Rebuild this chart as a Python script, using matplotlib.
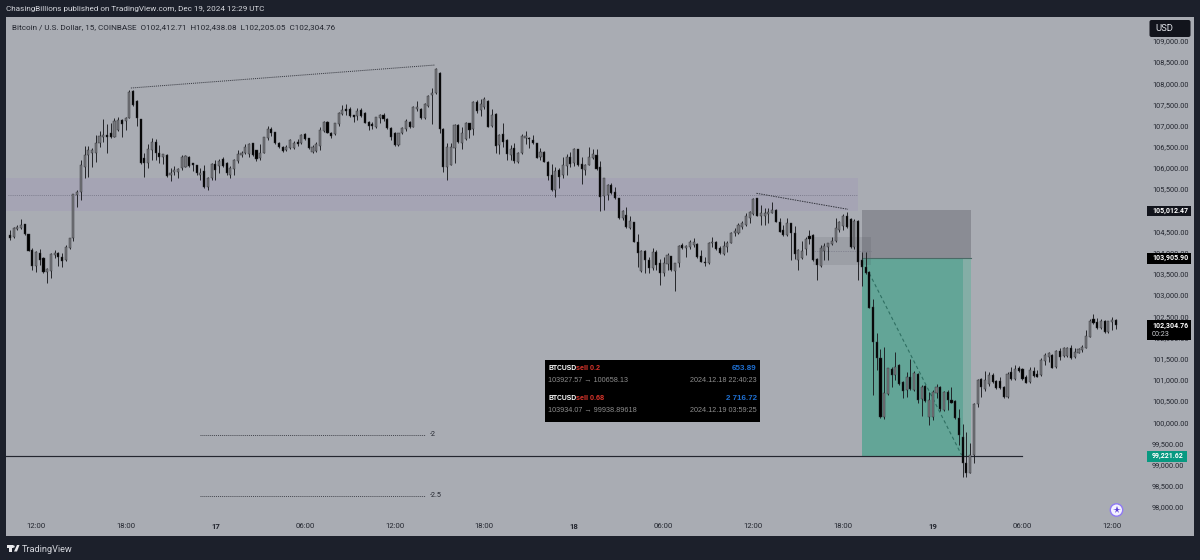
import numpy as np
import matplotlib
matplotlib.use("Agg")
import matplotlib.pyplot as plt
from matplotlib.patches import Rectangle, FancyBboxPatch, Polygon, Circle

# 15 min candles, index 0 is the 12:00 candle of dec 16
candle_index = list(range(-7, 290))

opens = [
    104416, 104377, 104558, 104574, 104668, 104440, 104062, 103684, 103984, 103865, 103551, 103574, 103944, 104000, 103889, 103826, 104101, 104338, 105353, 105438,
    106028, 106303, 106343, 106359, 106595, 106736, 106776, 106815, 106736, 106894, 107130, 107114, 107185, 107822, 107586, 107146, 106225, 106107, 106422, 106603,
    106343, 106264, 106303, 105831, 105910, 105910, 105989, 106028, 106264, 106107, 106067, 105831, 105934, 105556, 105753, 106091, 106052, 106201, 106107, 105831,
    105973, 106170, 106303, 106343, 106327, 106579, 106422, 106225, 106359, 106705, 106909, 106839, 106595, 106500, 106422, 106461, 106461, 106618, 106579, 106799,
    106697, 106366, 106406, 106516, 106878, 107090, 106831, 106799, 107035, 107271, 107382, 107382, 107248, 107224, 107366, 107287, 107090, 107035, 106957, 107169,
    107248, 107146, 106933, 106815, 106540,
    106816, 106918, 107091, 106973, 107382, 107390, 107185, 107469, 107721, 107760, 108248, 106918, 106013, 106068, 106461, 107012, 106579, 106674, 107052, 106910,
    107563, 107366, 107429, 107587, 106989, 107264, 106540, 106792, 106658, 106304, 106461, 106147, 106343, 106713, 106713, 106658, 106579, 106249, 106383, 106147,
    105832, 105478, 105950, 105832, 106052, 106249, 106107, 106438, 106091, 105950, 106068, 106225, 106304, 106013, 105336, 105360, 105596, 105438, 105281, 104809,
    104887, 104573, 104722, 104258, 103573, 104045, 103825, 103628, 104022, 103746, 103526, 103730, 103920, 103573, 103746, 104179, 104100, 104140, 104179, 104195,
    103920, 103786, 103746, 104234, 104242, 104100, 103967, 104140, 104234, 104455, 104455, 104612, 104651, 104809, 104911, 105281, 104872, 104872, 104911, 104943,
    105005, 104730, 104533, 104415, 104691, 104455, 103825,
    103866, 104078, 104393, 104416, 103842, 103685, 104047, 104141, 104204, 104283, 104534, 104629, 104865, 104786, 104141, 104755, 103826, 103669, 103551, 102709,
    101898, 101520, 100112, 100662, 101253, 101111, 101347, 100954, 100757, 101072, 100757, 101127, 100537, 100852, 100112, 100112, 100694, 100836, 100284, 100718,
    100521, 100497, 100104, 99655, 99041, 98805, 99222, 100426, 101009, 100773, 100899, 101111, 100977, 100970, 100836, 100584, 101190, 101009, 101268, 101245,
    101072, 100954, 101213, 101135, 101111, 101449, 101544, 101583, 101292, 101686, 101568, 101568, 101756, 101528, 101638, 101701, 101756, 102016, 102425, 102370,
    102213, 102378, 102126, 102370, 102412.71,
]

highs = [
    104534, 104613, 104652, 104794, 104680, 104450, 104100, 104030, 104078, 103889, 103629, 103984, 104062, 104023, 103984, 104180, 104354, 105384, 105479, 106185,
    106524, 106524, 106461, 106776, 106870, 107146, 107035, 107051, 107169, 107208, 107146, 107208, 107838, 107838, 107602, 107160, 106343, 106563, 106697, 106681,
    106540, 106335, 106320, 105989, 106044, 105989, 106303, 106303, 106280, 106123, 106067, 105989, 106067, 105792, 106107, 106185, 106201, 106248, 106130, 106044,
    106201, 106422, 106406, 106555, 106579, 106590, 106430, 106563, 106730, 106988, 106972, 106854, 106618, 106516, 106540, 106681, 106642, 106673, 106791, 106815,
    106713, 106540, 106618, 106972, 107114, 107106, 106854, 107067, 107327, 107484, 107500, 107445, 107260, 107405, 107405, 107311, 107114, 107090, 107208, 107271,
    107287, 107169, 106957, 106854, 106831,
    106957, 107154, 107107, 107461, 107587, 107406, 107540, 107721, 107878, 108350, 108264, 106934, 106595, 106595, 107028, 107036, 106973, 107083, 107067, 107587,
    107603, 107618, 107665, 107603, 107382, 107288, 106800, 107067, 106674, 106540, 106579, 106383, 106800, 106878, 106721, 106776, 106595, 106461, 106399, 106155,
    106091, 106028, 105989, 106249, 106328, 106375, 106461, 106453, 106249, 106091, 106501, 106438, 106453, 106162, 105769, 105612, 105635, 105541, 105297, 105005,
    105084, 104872, 104730, 104431, 104061, 104061, 103888, 104100, 104061, 103841, 103888, 103998, 103928, 103755, 104179, 104218, 104171, 104297, 104352, 104218,
    104061, 103888, 104250, 104360, 104281, 104155, 104281, 104281, 104494, 104573, 104691, 104746, 104927, 104990, 105281, 105297, 105123, 105045, 105045, 105202,
    105021, 104825, 104651, 104809, 104700, 104628, 104077,
    104275, 104361, 104534, 104440, 103866, 104180, 104235, 104235, 104377, 104810, 104755, 104904, 104967, 104810, 104802, 104771, 104023, 104023, 103574, 102898,
    102095, 101717, 101780, 101284, 101308, 101646, 101363, 100970, 101190, 101481, 101213, 101150, 100875, 100875, 100718, 100757, 100899, 100852, 100741, 100757,
    100820, 100521, 100300, 99954, 99757, 99498, 100442, 101009, 101032, 101213, 101190, 101166, 100993, 101072, 100852, 101190, 101292, 101339, 101324, 101268,
    101111, 101308, 101292, 101229, 101505, 101638, 101654, 101607, 101701, 101741, 101780, 101780, 101819, 101741, 101756, 101819, 102173, 102425, 102543, 102449,
    102425, 102410, 102394, 102473, 102438.08,
]

lows = [
    104298, 104338, 104534, 104550, 104425, 104030, 103590, 103551, 103708, 103511, 103275, 103393, 103865, 103684, 103669, 103810, 104078, 104283, 105085, 105241,
    105753, 105792, 106028, 106146, 106500, 106618, 106359, 106715, 106721, 106870, 106736, 106894, 107169, 107460, 106988, 106090, 105792, 105989, 106185, 106185,
    106107, 106091, 105792, 105690, 105831, 105753, 105949, 106020, 106028, 105934, 105831, 105713, 105516, 105477, 105713, 105713, 105871, 106028, 105831, 105753,
    105831, 106107, 106248, 106327, 106264, 106280, 106170, 106185, 106343, 106658, 106752, 106563, 106461, 106382, 106398, 106445, 106445, 106516, 106563, 106658,
    106437, 106343, 106382, 106422, 106854, 106815, 106697, 106776, 106988, 107248, 107248, 107208, 107090, 107130, 107208, 107051, 106894, 106909, 106933, 107067,
    107114, 106909, 106658, 106516, 106516,
    106800, 106871, 106949, 106957, 107351, 107154, 107154, 107445, 107036, 107736, 106831, 105910, 105714, 106060, 106107, 106579, 106446, 106658, 106697, 106776,
    107288, 107233, 107382, 106957, 106973, 106343, 106328, 106501, 106186, 106186, 106107, 106107, 106328, 106564, 106461, 106564, 106225, 106186, 106131, 105714,
    105462, 105320, 105517, 105753, 105832, 106013, 106044, 106044, 105619, 105832, 106060, 106202, 105950, 104982, 105005, 105241, 105383, 105265, 104785, 104769,
    104588, 104549, 104242, 103667, 103549, 103526, 103526, 103589, 103589, 103235, 103447, 103589, 103573, 103101, 103667, 104077, 103904, 104077, 104140, 103864,
    103770, 103691, 103730, 104140, 104061, 103967, 103943, 104006, 104218, 104392, 104431, 104549, 104628, 104706, 104887, 104864, 104651, 104651, 104691, 104927,
    104714, 104478, 104392, 104392, 103825, 103841, 103589,
    103860, 103944, 104204, 103803, 103354, 103653, 103826, 103826, 104180, 104259, 104495, 104534, 104574, 104102, 104078, 103354, 103212, 103496, 102685, 100639,
    101229, 100088, 100064, 100639, 100836, 100993, 100883, 100560, 100599, 100757, 100741, 100442, 100143, 100482, 99931, 100049, 100560, 100269, 100269, 100284,
    100450, 100064, 99458, 98695, 98695, 98790, 99041, 100348, 100584, 100741, 100859, 100930, 100773, 100773, 100560, 100568, 100993, 100993, 101190, 100993,
    100914, 100930, 101072, 101056, 101095, 101347, 101426, 101268, 101268, 101465, 101544, 101544, 101481, 101505, 101623, 101662, 101741, 102000, 102315, 102189,
    102197, 102111, 102111, 102174, 102205.05,
]

closes = [
    104338, 104574, 104613, 104652, 104432, 104039, 103684, 104023, 103826, 103535, 103606, 103968, 104000, 103889, 103810, 104125, 104338, 105376, 105439, 106067,
    106303, 106422, 106422, 106595, 106752, 106776, 106736, 106721, 107114, 107130, 107035, 107169, 107799, 107484, 107169, 106107, 106107, 106437, 106618, 106343,
    106264, 106327, 105808, 105886, 105949, 105965, 106248, 106280, 106052, 106067, 105871, 105886, 105556, 105753, 106091, 105949, 106162, 106044, 105871, 106004,
    106185, 106327, 106359, 106500, 106563, 106303, 106201, 106359, 106721, 106909, 106815, 106595, 106484, 106406, 106500, 106658, 106595, 106563, 106776, 106673,
    106461, 106500, 106563, 106894, 107090, 106831, 106752, 107051, 107303, 107366, 107350, 107224, 107193, 107350, 107224, 107067, 106988, 106988, 107193, 107248,
    107146, 106933, 106721, 106540, 106815,
    106934, 107107, 106957, 107445, 107445, 107170, 107508, 107705, 107760, 108334, 106910, 106013, 106501, 106501, 107012, 106603, 106816, 107067, 106894, 107563,
    107343, 107508, 107618, 106973, 107248, 106524, 106776, 106619, 106320, 106438, 106170, 106343, 106753, 106753, 106674, 106579, 106241, 106367, 106147, 105808,
    105478, 105934, 105792, 106068, 106249, 106091, 106438, 106068, 105966, 106068, 106265, 106328, 105966, 105320, 105753, 105596, 105399, 105281, 104809, 104982,
    104612, 104746, 104258, 103998, 104045, 103825, 103628, 104006, 103707, 103510, 103746, 103943, 103589, 103746, 104163, 104100, 104155, 104242, 104258, 103888,
    103786, 103746, 104234, 104258, 104085, 103982, 104163, 104234, 104470, 104510, 104651, 104706, 104864, 104966, 105257, 104872, 104927, 104927, 104966, 105005,
    104730, 104494, 104415, 104691, 104455, 103967, 104061,
    104047, 104314, 104314, 103826, 103708, 104102, 104165, 104220, 104283, 104574, 104731, 104873, 104597, 104141, 104755, 103787, 103653, 103527, 102701, 101882,
    101505, 100112, 100678, 101268, 101111, 101308, 100899, 100741, 101072, 100773, 101150, 100521, 100836, 100505, 100521, 100718, 100820, 100300, 100718, 100521,
    100458, 100088, 99694, 99041, 98805, 99222, 100426, 100993, 100820, 100993, 101111, 100954, 100796, 100796, 100584, 101135, 101009, 101245, 101213, 101017,
    100930, 101229, 101095, 101072, 101465, 101583, 101623, 101284, 101686, 101544, 101741, 101741, 101505, 101662, 101717, 101780, 102032, 102394, 102331, 102213,
    102394, 102126, 102378, 102410, 102304.76,
]

assert len(opens) == len(highs) == len(lows) == len(closes) == len(candle_index)

x_tick_pos = [0, 24, 48, 72, 96, 120, 144, 168, 192, 216, 240, 264, 288]
x_tick_labels = ["12:00", "18:00", "17", "06:00", "12:00", "18:00", "18", "06:00", "12:00", "18:00", "19", "06:00", "12:00"]
# 105,000 sits fully under the stop label so it is left out
price_ticks = [p for p in range(98000, 109500, 500) if p != 105000]

# drawings on the chart, prices and candle numbers
zone_prices = [104984, 105373, 105762]
small_zone_prices = [103709, 104047, 104370]
stop_price = 105000
entry_price = 103885
target_price = 99195
fib_levels = [99704, 98258]
fib_names = ["-2", "-2.5"]

BG = "#a9acb3"
FRAME = "#1c202b"
TXT = "#23262f"
FONT = "Roboto"

fig = plt.figure(figsize=(12, 5.6), dpi=100, facecolor=FRAME)
plt.rcParams["font.family"] = [FONT, "DejaVu Sans"]
ax = fig.add_axes([6 / 1200, 24 / 560, 1188 / 1200, 519 / 560], facecolor=BG)
ax.set_xlim(-8.03, 309.9)
ax.set_ylim(97314, 109562)
for s in ax.spines.values():
    s.set_visible(False)

# zones first, the candles go on top
ax.axhspan(zone_prices[0], zone_prices[2], xmin=0, xmax=(220 + 8.03) / 317.93, color="#a5a4b4", lw=0, zorder=1)
ax.plot([-7.5, 220], [zone_prices[1]] * 2, color="#6f6f80", lw=0.6, ls=(0, (1, 1.5)), zorder=1.5)
ax.add_patch(Rectangle((221, entry_price), 29.2, stop_price - entry_price, color="#8a8c94", lw=0, zorder=1))
ax.plot([221, 250.2], [entry_price] * 2, color="#4a6a66", lw=0.8, zorder=1.6)
ax.add_patch(Rectangle((221, target_price), 29.2, entry_price - target_price, color="#84aea6", lw=0, zorder=1))
ax.add_patch(Rectangle((221, target_price), 27, entry_price - target_price, color="#63a597", lw=0, zorder=1.1))
ax.add_patch(Rectangle((208, small_zone_prices[0]), 15.5, small_zone_prices[2] - small_zone_prices[0], color="#2a2e39", alpha=0.1, lw=0, zorder=1.3))
ax.plot([208, 223.5], [small_zone_prices[1]] * 2, color="#6f6f80", lw=0.5, ls=(0, (1, 1.5)), zorder=1.5)

ax.plot([-8.03, 264], [target_price] * 2, color="#23262f", lw=0.85, zorder=1.7)
ax.plot([223, 247.7], [103513, 99225], color="#2f6f62", lw=0.8, ls=(0, (3, 2.5)), zorder=1.7)
ax.plot([25.4, 106.8], [107886, 108429], color="#33353d", lw=0.7, ls=(0, (1, 1)), zorder=1.7)
ax.plot([192.8, 217.3], [105402, 105024], color="#33353d", lw=0.7, ls=(0, (1.5, 1)), zorder=1.7)
for lev, name in zip(fib_levels, fib_names):
    ax.plot([43.9, 104.1], [lev, lev], color="#44464e", lw=0.7, ls=(0, (1, 1)), zorder=1.7)
    ax.text(105.5, lev, name, fontsize=5.2, color=TXT, va="center", ha="left")

o = np.array(opens)
c = np.array(closes)
up = c >= o
body_col = np.where(up, "#77797e", "#000000")
ax.vlines(candle_index, lows, highs, colors="#1b1c20", lw=0.65, zorder=2)
ax.bar(candle_index, np.abs(c - o), bottom=np.minimum(o, c), width=0.56, color=body_col, edgecolor="#2a2b30", linewidth=0.3, zorder=3)

ax.set_xticks(x_tick_pos)
ax.set_xticklabels(x_tick_labels)
ax.tick_params(axis="x", length=0, pad=-9.5, labelsize=5.6, labelcolor=TXT)
for lab in ax.get_xticklabels():
    if lab.get_text() in ("17", "18", "19"):
        lab.set_fontweight("bold")
ax.yaxis.tick_right()
ax.set_yticks(price_ticks)
ax.set_yticklabels([f"{v:,.2f}" for v in price_ticks])
ax.tick_params(axis="y", length=0, pad=-30.2, labelsize=5.3, labelcolor=TXT)

# overlay in pixels for the screenshot stuff around the chart
top = fig.add_axes([0, 0, 1, 1], facecolor="none")
top.set_xlim(0, 1200)
top.set_ylim(560, 0)
top.axis("off")

top.text(6.5, 9.5, "ChasingBillions published on TradingView.com, Dec 19, 2024 12:29 UTC", color="#d5d7dd", fontsize=5.9, va="center")
top.text(11.5, 27.5, "Bitcoin / U.S. Dollar, 15, COINBASE  O102,412.71  H102,438.08  L102,205.05  C102,304.76", color=TXT, fontsize=5.9, va="center")
top.text(22, 549, "TradingView", color="#d5d7dd", fontsize=6.6, va="center")
top.add_patch(Rectangle((6.5, 545), 6, 2.5, color="#e8e9ec", lw=0))
top.add_patch(Rectangle((9, 545), 2.5, 6.5, color="#e8e9ec", lw=0))
top.add_patch(Circle((13.5, 546.5), 1.2, color="#e8e9ec", lw=0))
top.add_patch(Polygon([(14, 551.5), (17, 545), (19.5, 545), (17, 551.5)], color="#e8e9ec", lw=0))

# usd button
top.add_patch(FancyBboxPatch((1149.5, 20), 41, 17, boxstyle="round,pad=0,rounding_size=2", fc="#12141c", ec="none", zorder=5))
top.text(1155, 28.7, "USD", color="#e2e4ea", fontsize=6.8, va="center", zorder=6)

# price labels on the scale
boxes = [(1147, 205.5, 43.5, 10.5, "#12141c", "105,012.47"),
         (1147, 252.5, 43.5, 11, "#000000", "103,905.90"),
         (1147, 450.5, 39.5, 11, "#089981", "99,221.62")]
for bx, by, bw, bh, col, s in boxes:
    top.add_patch(Rectangle((bx, by), bw, bh, color=col, lw=0, zorder=5))
    top.text(bx + 5, by + bh / 2, s, color="white", fontsize=5.0, fontweight="bold", va="center", zorder=6)
top.add_patch(Rectangle((1147, 320), 43.5, 20, color="#000000", lw=0, zorder=5))
top.text(1152, 325.5, "102,304.76", color="white", fontsize=5.0, fontweight="bold", va="center", zorder=6)
top.text(1152, 334, "00:23", color="#cfd1d6", fontsize=5.2, va="center", zorder=6)

# black trade box
top.add_patch(Rectangle((545, 360), 215, 62, color="#000000", lw=0, zorder=5))
TRADE = "Liberation Sans"
rows = [(368.5, "sell 0.2", "653.89", "103927.57 → 100658.13", "2024.12.18 22:40:23"),
        (398.5, "sell 0.68", "2 716.72", "103934.07 → 99938.89618", "2024.12.19 03:59:25")]
for ry, side, profit, prices, stamp in rows:
    top.text(548.5, ry, "BTCUSD", color="white", fontsize=4.9, fontweight="bold", family=TRADE, va="center", zorder=6)
    top.text(576.5, ry, side, color="#d9342b", fontsize=5.2, fontweight="bold", family=TRADE, va="center", zorder=6)
    top.text(756.5, ry, profit, color="#1f6fd0", fontsize=5.8, fontweight="bold", family=TRADE, va="center", ha="right", zorder=6)
    top.text(548.5, ry + 12, prices, color="#8e8e8e", fontsize=5.2, family=TRADE, va="center", zorder=6)
    top.text(756.5, ry + 12, stamp, color="#8e8e8e", fontsize=5.2, family=TRADE, va="center", ha="right", zorder=6)

# little purple button
top.add_patch(Circle((1116.5, 510), 6.2, fc="#f4f2ff", ec="#8f79f5", lw=1, zorder=5))
top.plot([1116.5], [510], marker="*", ms=5.5, color="#5b3fd6", mew=0, zorder=6)

fig.savefig("out.png", dpi=100, facecolor=fig.get_facecolor())
